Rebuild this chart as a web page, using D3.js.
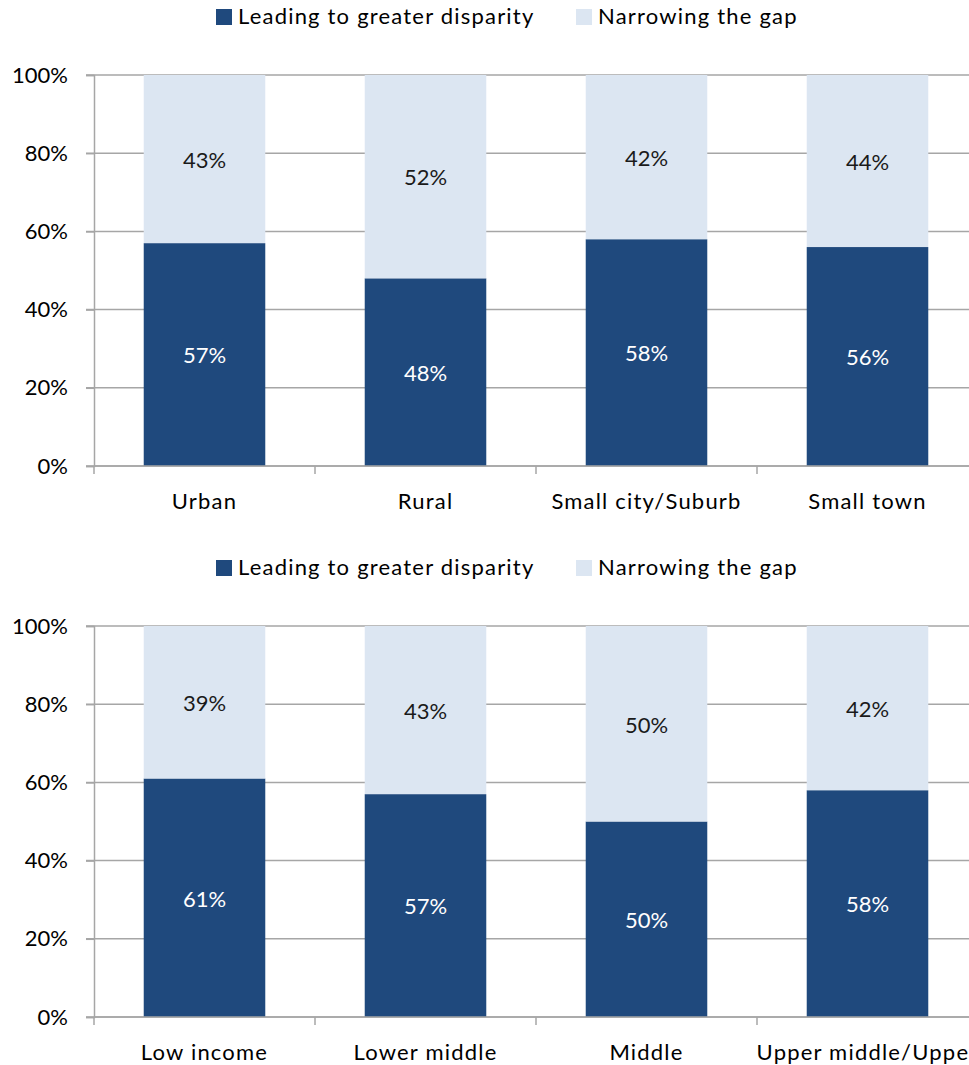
<!DOCTYPE html>
<html><head><meta charset="utf-8">
<script src="https://cdn.jsdelivr.net/npm/d3@7"></script>
<style>body{margin:0;background:#fff}svg{display:block}text{font-family:Lato,"Noto Sans",sans-serif;}</style>
</head><body>
<svg id="c" width="969" height="1065"></svg>
<script>
const series = ["Leading to greater disparity", "Narrowing the gap"];
const categoriesTop = ["Urban", "Rural", "Small city/Suburb", "Small town"];
const disparityTop = [57, 48, 58, 56];
const narrowingTop = [43, 52, 42, 44];
const categoriesBottom = ["Low income", "Lower middle", "Middle", "Upper middle/Upper"];
const disparityBottom = [61, 57, 50, 58];
const narrowingBottom = [39, 43, 50, 42];
const yTicks = [0, 20, 40, 60, 80, 100];

const colors = ["#1F497D", "#DCE6F2"];
const labelColors = ["#FFFFFF", "#1a1a1a"];
const svg = d3.select("#c");
const FS = 22;
const LS = "1.2px";

function drawChart(top, cats, dark, light) {
  const g = svg.append("g").attr("transform", `translate(0,${top})`);
  // legend
  const leg = g.append("g");
  const legX = [216, 576];
  series.forEach((s, i) => {
    leg.append("rect").attr("x", legX[i]).attr("y", 9).attr("width", 16).attr("height", 16).attr("fill", colors[i]);
    leg.append("text").attr("x", legX[i] + 22).attr("y", 24).attr("font-size", FS)
      .attr("letter-spacing", LS).attr("fill", "#000").text(s);
  });
  const x = d3.scaleBand().domain(cats).range([94, 94 + 4 * 221]).paddingInner(0.45).paddingOuter(0.225);
  const y = d3.scaleLinear().domain([0, 100]).range([466, 75]);
  // gridlines
  g.append("g").selectAll("line").data(yTicks).join("line")
    .attr("x1", 86).attr("x2", 969).attr("y1", d => y(d)).attr("y2", d => y(d))
    .attr("stroke", "#A6A6A6").attr("stroke-width", 1.5);
  // y axis
  const ya = g.append("g").attr("transform", "translate(94,0)")
    .call(d3.axisLeft(y).tickValues(yTicks).tickFormat(d => d + "%").tickSize(8).tickPadding(18));
  ya.select(".domain").attr("stroke", "#A6A6A6").attr("stroke-width", 1.5);
  ya.selectAll(".tick line").attr("stroke", "#A6A6A6").attr("stroke-width", 1.5);
  ya.selectAll(".tick text").attr("font-size", FS).attr("fill", "#000").attr("font-family", "Lato,'Noto Sans',sans-serif");
  // bars
  const stacks = cats.map((c, i) => ({ c, vals: [dark[i], light[i]] }));
  stacks.forEach(st => {
    let base = 0;
    st.vals.forEach((v, k) => {
      g.append("rect").attr("x", x(st.c)).attr("width", x.bandwidth())
        .attr("y", y(base + v)).attr("height", y(base) - y(base + v)).attr("fill", colors[k]);
      g.append("text").attr("x", x(st.c) + x.bandwidth() / 2).attr("y", (y(base) + y(base + v)) / 2)
        .attr("dy", "0.4em").attr("text-anchor", "middle").attr("font-size", FS).attr("fill", labelColors[k])
        .text(v + "%");
      base += v;
    });
  });
  // x axis
  const xa = g.append("g").attr("transform", "translate(0,466)");
  xa.append("line").attr("x1", 94).attr("x2", 969).attr("stroke", "#A6A6A6").attr("stroke-width", 1.5);
  const bounds = d3.range(cats.length + 1).map(i => 94 + i * 221);
  xa.selectAll(".tk").data(bounds).join("line").attr("class", "tk")
    .attr("x1", d => d).attr("x2", d => d).attr("y1", 0).attr("y2", 8)
    .attr("stroke", "#A6A6A6").attr("stroke-width", 1.5);
  xa.selectAll(".lb").data(cats).join("text").attr("class", "lb")
    .attr("x", d => x(d) + x.bandwidth() / 2).attr("y", 43).attr("text-anchor", "middle")
    .attr("font-size", FS).attr("letter-spacing", LS).attr("fill", "#000").text(d => d);
}
drawChart(0, categoriesTop, disparityTop, narrowingTop);
drawChart(551, categoriesBottom, disparityBottom, narrowingBottom);
</script>
</body></html>
